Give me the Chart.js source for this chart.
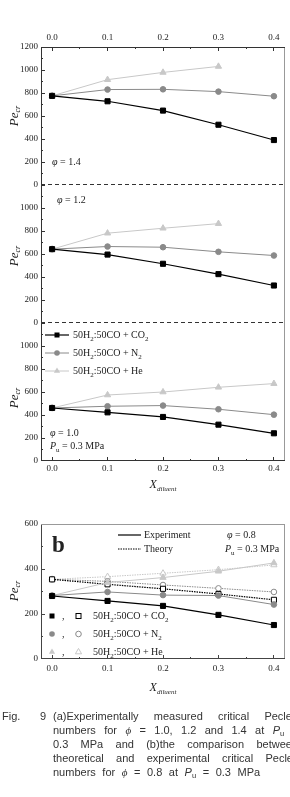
<!DOCTYPE html>
<html>
<head>
<meta charset="utf-8">
<script src="https://cdn.jsdelivr.net/npm/chart.js@4.4.0/dist/chart.umd.min.js"></script>
<style>
html, body { margin: 0; padding: 0; background: #fff; }
body { width: 290px; height: 797px; position: relative; overflow: hidden; font-family: "Liberation Serif", serif; color: #222; }
canvas { position: absolute; left: 0; }
.t { position: absolute; font-size: 10px; line-height: 10px; white-space: nowrap; }
.t sub { font-size: 7px; line-height: 0; vertical-align: -2.5px; }
.t svg { position: absolute; }
.ylab { position: absolute; font-size: 13px; font-style: italic; line-height: 13px; white-space: nowrap; transform: translate(-50%, -50%) rotate(-90deg); }
.ylab sub { font-size: 8px; line-height: 0; vertical-align: -2px; }
.xlab { position: absolute; font-size: 12px; font-style: italic; line-height: 12px; white-space: nowrap; transform: translateX(-50%); }
.xlab sub { font-size: 7px; line-height: 0; vertical-align: -3px; }
.cap { position: absolute; font-family: "Liberation Sans", sans-serif; font-size: 11px; line-height: 12px; color: #333; white-space: nowrap; }
.cap.j { text-align: justify; text-align-last: justify; white-space: normal; }
.cap sub { font-size: 7.5px; line-height: 0; vertical-align: -2px; }
.cap i.ph { font-family: "Liberation Serif", serif; }
</style>
</head>
<body>
<canvas id="a14" width="290" height="195" style="top:0px"></canvas>
<canvas id="a12" width="290" height="158" style="top:175px"></canvas>
<canvas id="a10" width="290" height="163" style="top:313px"></canvas>
<canvas id="b08" width="290" height="160" style="top:514px"></canvas>

<!-- panel (a) texts -->
<div class="ylab" style="left:13px;top:116px">Pe<sub>cr</sub></div>
<div class="ylab" style="left:13px;top:256px">Pe<sub>cr</sub></div>
<div class="ylab" style="left:13px;top:398px">Pe<sub>cr</sub></div>
<div class="t" style="left:52px;top:157px"><i>φ</i> = 1.4</div>
<div class="t" style="left:57px;top:195px"><i>φ</i> = 1.2</div>
<div class="t" style="left:50px;top:428px"><i>φ</i> = 1.0</div>
<div class="t" style="left:50px;top:441px"><i>P</i><sub>u</sub> = 0.3 MPa</div>

<div class="t" style="left:45px;top:330px;width:120px;height:10px">
  <svg width="24" height="10" style="left:0;top:0"><line x1="0" y1="5" x2="24" y2="5" stroke="#000" stroke-width="1.2"/><rect x="9.5" y="2.5" width="5" height="5" fill="#000"/></svg>
  <span style="position:absolute;left:28px;top:0">50H<sub>2</sub>:50CO + CO<sub>2</sub></span>
</div>
<div class="t" style="left:45px;top:348px;width:120px;height:10px">
  <svg width="24" height="10" style="left:0;top:0"><line x1="0" y1="5" x2="24" y2="5" stroke="#8a8a8a" stroke-width="1"/><circle cx="12" cy="5" r="2.8" fill="#8a8a8a"/></svg>
  <span style="position:absolute;left:28px;top:0">50H<sub>2</sub>:50CO + N<sub>2</sub></span>
</div>
<div class="t" style="left:45px;top:366px;width:120px;height:10px">
  <svg width="24" height="10" style="left:0;top:0"><line x1="0" y1="5" x2="24" y2="5" stroke="#c8c8c8" stroke-width="1"/><polygon points="12,1.4 15.1,6.8 8.9,6.8" fill="#c8c8c8"/></svg>
  <span style="position:absolute;left:28px;top:0">50H<sub>2</sub>:50CO + He</span>
</div>
<div class="xlab" style="left:163px;top:478px">X<sub>diluent</sub></div>

<!-- panel (b) texts -->
<div class="t" style="left:52px;top:534px;font-size:23px;line-height:22px;font-weight:bold">b</div>
<div class="t" style="left:118px;top:530px;width:90px;height:10px">
  <svg width="23" height="10" style="left:0;top:0"><line x1="0" y1="5" x2="23" y2="5" stroke="#000" stroke-width="1.2"/></svg>
  <span style="position:absolute;left:26px;top:0">Experiment</span>
</div>
<div class="t" style="left:118px;top:544px;width:90px;height:10px">
  <svg width="23" height="10" style="left:0;top:0"><line x1="0" y1="5" x2="23" y2="5" stroke="#000" stroke-width="1" stroke-dasharray="1.5,1"/></svg>
  <span style="position:absolute;left:26px;top:0">Theory</span>
</div>
<div class="t" style="left:227px;top:530px"><i>φ</i> = 0.8</div>
<div class="t" style="left:225px;top:544px"><i>P</i><sub>u</sub> = 0.3 MPa</div>
<div class="ylab" style="left:13px;top:591px">Pe<sub>cr</sub></div>

<div class="t" style="left:46px;top:611px;width:150px;height:10px">
  <svg width="40" height="10" style="left:0;top:0"><rect x="3.5" y="2.5" width="5" height="5" fill="#000"/><rect x="30" y="2.5" width="5" height="5" fill="#fff" stroke="#000" stroke-width="1"/></svg>
  <span style="position:absolute;left:16px;top:0">,</span>
  <span style="position:absolute;left:47px;top:0">50H<sub>2</sub>:50CO + CO<sub>2</sub></span>
</div>
<div class="t" style="left:46px;top:629px;width:150px;height:10px">
  <svg width="40" height="10" style="left:0;top:0"><circle cx="6" cy="5" r="2.8" fill="#8a8a8a"/><circle cx="32.5" cy="5" r="2.8" fill="#fff" stroke="#8a8a8a" stroke-width="1"/></svg>
  <span style="position:absolute;left:16px;top:0">,</span>
  <span style="position:absolute;left:47px;top:0">50H<sub>2</sub>:50CO + N<sub>2</sub></span>
</div>
<div class="t" style="left:46px;top:647px;width:150px;height:10px">
  <svg width="40" height="10" style="left:0;top:0"><polygon points="6,1.4 9.1,6.8 2.9,6.8" fill="#c8c8c8"/><polygon points="32.5,1.4 35.6,6.8 29.4,6.8" fill="#fff" stroke="#c8c8c8" stroke-width="1"/></svg>
  <span style="position:absolute;left:16px;top:0">,</span>
  <span style="position:absolute;left:47px;top:0">50H<sub>2</sub>:50CO + He</span>
</div>
<div class="xlab" style="left:163px;top:681px">X<sub>diluent</sub></div>

<!-- caption -->
<div class="cap" style="left:2px;top:710px">Fig.</div>
<div class="cap" style="left:40px;top:710px">9</div>
<div class="cap j" style="left:53px;top:710px;width:242px">(a)Experimentally measured critical Peclet</div>
<div class="cap j" style="left:53px;top:724px;width:246px">numbers for <i class="ph">ϕ</i> = 1.0, 1.2 and 1.4 at <i>P</i><sub>u</sub> =</div>
<div class="cap j" style="left:53px;top:738px;width:245px">0.3 MPa and (b)the comparison between</div>
<div class="cap j" style="left:53px;top:752px;width:243px">theoretical and experimental critical Peclet</div>
<div class="cap" style="left:53px;top:766px;word-spacing:3.5px">numbers for <i class="ph">ϕ</i> = 0.8 at <i>P</i><sub>u</sub> = 0.3 MPa</div>

<script>
// x positions and ticks
const xDiluent = [0.0, 0.1, 0.2, 0.3, 0.4];
const xTicks = [0.0, 0.1, 0.2, 0.3, 0.4];
const yTicksA = [0, 200, 400, 600, 800, 1000, 1200];
const yTicksB = [0, 200, 400, 600];

// (a) phi = 1.4
const co2Phi14 = [775, 728, 647, 524, 391];
const n2Phi14 = [775, 830, 832, 812, 772];
const hePhi14 = [775, 916, 979, 1031];
// (a) phi = 1.2
const co2Phi12 = [642, 595, 515, 425, 326];
const n2Phi12 = [642, 665, 659, 619, 587];
const hePhi12 = [642, 781, 824, 864];
// (a) phi = 1.0
const co2Phi10 = [461, 423, 383, 316, 241];
const n2Phi10 = [461, 476, 482, 450, 403];
const hePhi10 = [461, 574, 600, 641, 673];
// (b) phi = 0.8, experiment and theory
const co2Exp = [280, 258, 236, 196, 151];
const n2Exp = [282, 298, 284, 282, 242];
const heExp = [282, 340, 362, 390, 427];
const co2Theory = [354, 332, 312, 289, 263];
const n2Theory = [354, 345, 329, 314, 298];
const heTheory = [354, 366, 381, 397, 418];

const BLACK = '#000', GRAY = '#8a8a8a', LIGHT = '#c8c8c8';
const tickFont = { family: 'Liberation Serif', size: 9 };

function pts(vals) {
    return vals.map((v, i) => ({ x: xDiluent[i], y: v }));
}

// gas -> marker style
const gas = {
    co2: { style: 'rect', r: 3.6, color: BLACK, lw: 1.2 },
    n2: { style: 'circle', r: 2.8, color: GRAY, lw: 1 },
    he: { style: 'triangle', r: 3.6, color: LIGHT, lw: 1 }
};

function series(vals, g, open, dotted) {
    const s = gas[g];
    return {
        data: pts(vals),
        showLine: true,
        borderColor: s.color,
        borderWidth: s.lw,
        borderDash: dotted ? [1.5, 1] : [],
        pointStyle: s.style,
        pointRadius: s.r,
        pointBorderWidth: 1,
        pointBorderColor: s.color,
        pointBackgroundColor: open ? '#fff' : s.color
    };
}

// box, dashed separators and inward ticks
const framePlugin = {
    id: 'frame',
    afterDraw(chart, args, o) {
        const { ctx, chartArea: a } = chart;
        const xs = chart.scales.x, ys = chart.scales.y;
        const seg = (x1, y1, x2, y2) => { ctx.beginPath(); ctx.moveTo(x1, y1); ctx.lineTo(x2, y2); ctx.stroke(); };
        const cy = p => Math.min(Math.max(Math.floor(p) + 0.5, a.top + 0.5), a.bottom - 0.5);
        const cx = p => Math.floor(p) + 0.5;
        const L = a.left + 0.5, R = a.right - 0.5, T = a.top + 0.5, B = a.bottom - 0.5;
        ctx.save();
        ctx.lineWidth = 1;

        ctx.strokeStyle = o.rightColor;
        seg(R, a.top, R, a.bottom);
        ctx.strokeStyle = o.color;
        seg(L, a.top, L, a.bottom);

        o.yTicks.forEach((v, i) => {
            const p = cy(ys.getPixelForValue(v));
            seg(a.left, p, a.left + 4, p);
            if (i < o.yTicks.length - 1) {
                const m = cy(ys.getPixelForValue((v + o.yTicks[i + 1]) / 2));
                seg(a.left, m, a.left + 2, m);
            }
        });

        const xMarks = (yy, dir) => {
            xTicks.forEach((v, i) => {
                const p = cx(xs.getPixelForValue(v));
                seg(p, yy, p, yy + 4 * dir);
                if (i < xTicks.length - 1) {
                    const m = cx(xs.getPixelForValue((v + xTicks[i + 1]) / 2));
                    seg(m, yy, m, yy + 2 * dir);
                }
            });
        };

        if (o.top) {
            ctx.strokeStyle = o.topColor || o.color;
            ctx.setLineDash(o.top === 'dashed' ? [4, 3] : []);
            seg(a.left, T, a.right, T);
            ctx.setLineDash([]);
        }
        if (o.topTicks) { ctx.strokeStyle = o.color; xMarks(a.top, 1); }
        if (o.bottom) {
            ctx.strokeStyle = o.color;
            ctx.setLineDash(o.bottom === 'dashed' ? [4, 3] : []);
            seg(a.left, B, a.right, B);
            ctx.setLineDash([]);
        }
        if (o.bottomTicks) { ctx.strokeStyle = o.color; xMarks(a.bottom, -1); }
        ctx.restore();
    }
};

function makeChart(id, datasets, cfg) {
    return new Chart(document.getElementById(id), {
        type: 'scatter',
        data: { datasets: datasets },
        options: {
            responsive: false,
            animation: false,
            layout: { padding: cfg.padding },
            plugins: {
                legend: { display: false },
                tooltip: { enabled: false },
                frame: cfg.frame
            },
            scales: {
                x: {
                    type: 'linear',
                    min: -0.02,
                    max: 0.42,
                    position: cfg.xPos,
                    display: cfg.xShow,
                    afterBuildTicks: s => { s.ticks = xTicks.map(v => ({ value: v })); },
                    afterFit: s => { s.height = cfg.xHeight; },
                    grid: { display: false, drawTicks: false },
                    border: { display: false },
                    ticks: {
                        padding: cfg.xPad,
                        font: tickFont,
                        color: '#222',
                        maxRotation: 0,
                        autoSkip: false,
                        callback: v => Number(v).toFixed(1)
                    }
                },
                y: {
                    min: 0,
                    max: cfg.yTicks[cfg.yTicks.length - 1],
                    afterBuildTicks: s => { s.ticks = cfg.yTicks.map(v => ({ value: v })); },
                    afterFit: s => { s.width = 41; },
                    grid: { display: false, drawTicks: false },
                    border: { display: false },
                    ticks: {
                        padding: 3,
                        font: tickFont,
                        color: '#222',
                        autoSkip: false,
                        callback: v => (cfg.yHide || []).includes(v) ? '' : String(v)
                    }
                }
            }
        },
        plugins: [framePlugin]
    });
}

const frameA = { color: '#333', rightColor: '#999', yTicks: yTicksA };

makeChart('a14', [
    series(co2Phi14, 'co2'), series(n2Phi14, 'n2'), series(hePhi14, 'he')
], {
    padding: { top: 0, bottom: 10, left: 0, right: 4 },
    xPos: 'top', xShow: true, xHeight: 47, xPad: 4,
    yTicks: yTicksA,
    frame: Object.assign({}, frameA, { top: 'solid', topTicks: true, bottom: 'dashed' })
});

makeChart('a12', [
    series(co2Phi12, 'co2'), series(n2Phi12, 'n2'), series(hePhi12, 'he')
], {
    padding: { top: 10, bottom: 10, left: 0, right: 4 },
    xPos: 'bottom', xShow: false, xHeight: 0, xPad: 0,
    yTicks: yTicksA, yHide: [1200],
    frame: Object.assign({}, frameA, { bottom: 'dashed' })
});

makeChart('a10', [
    series(co2Phi10, 'co2'), series(n2Phi10, 'n2'), series(hePhi10, 'he')
], {
    padding: { top: 10, bottom: 0, left: 0, right: 4 },
    xPos: 'bottom', xShow: true, xHeight: 15, xPad: 2,
    yTicks: yTicksA, yHide: [1200],
    frame: Object.assign({}, frameA, { bottom: 'solid', bottomTicks: true })
});

makeChart('b08', [
    series(co2Exp, 'co2'), series(n2Exp, 'n2'), series(heExp, 'he'),
    series(co2Theory, 'co2', true, true), series(n2Theory, 'n2', true, true), series(heTheory, 'he', true, true)
], {
    padding: { top: 10, bottom: 0, left: 0, right: 4 },
    xPos: 'bottom', xShow: true, xHeight: 15, xPad: 4.5,
    yTicks: yTicksB,
    frame: { color: '#444', rightColor: '#999', topColor: '#999', yTicks: yTicksB, top: 'solid', bottom: 'solid', bottomTicks: true }
});
</script>
</body>
</html>
